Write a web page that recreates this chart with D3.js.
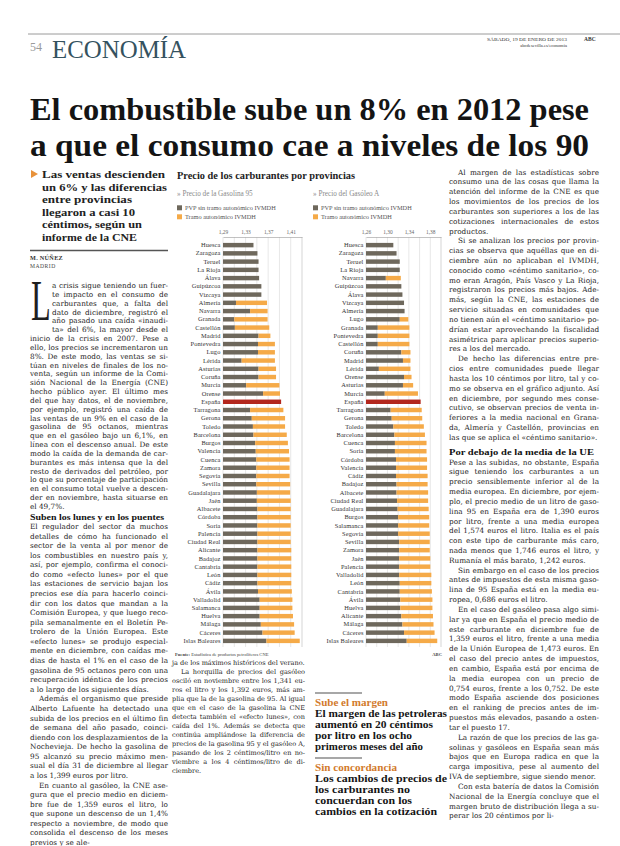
<!DOCTYPE html>
<html lang="es"><head><meta charset="utf-8">
<script src="https://cdn.jsdelivr.net/npm/d3@7/dist/d3.min.js"></script>
<style>html,body{margin:0;padding:0;background:#fff}svg{display:block}</style>
</head><body>
<svg id="page" width="620" height="846" xmlns="http://www.w3.org/2000/svg"></svg>
<script>
// ---------------- DATA ----------------
const gasProvinces = ["Huesca","Zaragoza","Teruel","La Rioja","Álava","Guipúzcoa","Vizcaya","Almería","Navarra","Granada","Castellón","Madrid","Pontevedra","Lugo","Lérida","Asturias","Coruña","Murcia","Orense","España","Tarragona","Gerona","Toledo","Barcelona","Burgos","Valencia","Cuenca","Zamora","Segovia","Sevilla","Guadalajara","Jaén","Albacete","Córdoba","Soria","Palencia","Ciudad Real","Alicante","Badajoz","Cantabria","León","Cádiz","Ávila","Valladolid","Salamanca","Huelva","Málaga","Cáceres","Islas Baleares"];
// PVP sin tramo autonómico IVMDH (€/litro)
const gasBase = [1.344,1.351,1.353,1.353,1.354,1.358,1.358,1.313,1.338,1.310,1.311,1.353,1.352,1.352,1.323,1.353,1.353,1.331,1.361,1.393,1.338,1.341,1.343,1.344,1.347,1.348,1.349,1.349,1.349,1.349,1.350,1.350,1.351,1.351,1.351,1.351,1.351,1.351,1.351,1.351,1.351,1.351,1.352,1.355,1.355,1.355,1.357,1.360,1.367];
// PVP total, incl. tramo autonómico IVMDH (€/litro)
const gasTotal = [1.344,1.351,1.353,1.353,1.354,1.358,1.358,1.368,1.369,1.369,1.372,1.374,1.382,1.382,1.382,1.384,1.384,1.390,1.391,1.393,1.397,1.400,1.400,1.403,1.405,1.407,1.408,1.408,1.408,1.409,1.409,1.410,1.410,1.410,1.410,1.410,1.410,1.411,1.411,1.411,1.411,1.411,1.412,1.413,1.413,1.414,1.416,1.417,1.426];
const gasTicks = [1.29,1.33,1.37,1.41];
const gasDomain = [1.29,1.43];

const dieselProvinces = ["Huesca","Zaragoza","Teruel","La Rioja","Navarra","Guipúzcoa","Álava","Vizcaya","Almería","Lugo","Granada","Pontevedra","Castellón","Coruña","Madrid","Lérida","Orense","Asturias","Murcia","España","Tarragona","Gerona","Toledo","Barcelona","Cuenca","Soria","Córdoba","Valencia","Cádiz","Badajoz","Albacete","Ciudad Real","Guadalajara","Burgos","Salamanca","Segovia","Sevilla","Zamora","Jaén","Palencia","Valladolid","León","Cantabria","Ávila","Huelva","Alicante","Málaga","Cáceres","Islas Baleares"];
const dieselBase = [1.311,1.317,1.323,1.323,1.297,1.326,1.328,1.331,1.332,1.323,1.282,1.282,1.282,1.326,1.329,1.284,1.331,1.329,1.295,1.362,1.306,1.308,1.311,1.313,1.314,1.314,1.316,1.316,1.316,1.317,1.317,1.318,1.319,1.320,1.320,1.320,1.322,1.322,1.322,1.322,1.322,1.323,1.323,1.324,1.324,1.326,1.328,1.331,1.336];
const dieselTotal = [1.311,1.317,1.323,1.323,1.325,1.326,1.328,1.331,1.332,1.339,1.341,1.341,1.341,1.343,1.343,1.343,1.345,1.348,1.357,1.362,1.364,1.365,1.368,1.370,1.373,1.373,1.374,1.374,1.375,1.375,1.376,1.376,1.377,1.378,1.378,1.379,1.379,1.379,1.380,1.380,1.382,1.382,1.383,1.384,1.384,1.385,1.386,1.388,1.393];
const dieselTicks = [1.26,1.30,1.34,1.38];
const dieselDomain = [1.26,1.40];

const seriesNames = ["PVP sin tramo autonómico IVMDH","Tramo autonómico IVMDH"];
const chartTitle = "Precio de los carburantes por provincias";
const gasTitle = "» Precio de la Gasolina 95";
const dieselTitle = "» Precio del Gasóleo A";

// ---------------- TEXTS ----------------
const headline = ["El combustible sube un 8% en 2012 pese","a que el consumo cae a niveles de los 90"];
const subhead = ["Las ventas descienden","un 6% y las diferencias","entre provincias","llegaron a casi 10","céntimos, según un","informe de la CNE"];
const leftA = [
 {drop:true,noIndent:true,text:"a crisis sigue teniendo un fuerte impacto en el consumo de carburantes que, a falta del dato de diciembre, registró el año pasado una caída «inaudita» del 6%, la mayor desde el inicio de la crisis en 2007. Pese a ello, los precios se incrementaron un 8%. De este modo, las ventas se sitúan en niveles de finales de los noventa, según un informe de la Comisión Nacional de la Energía (CNE) hecho público ayer. El último mes del que hay datos, el de noviembre, por ejemplo, registró una caída de las ventas de un 9% en el caso de la gasolina de 95 octanos, mientras que en el gasóleo bajo un 6,1%, en línea con el descenso anual. De este modo la caída de la demanda de carburantes es más intensa que la del resto de derivados del petróleo, por lo que su porcentaje de participación en el consumo total vuelve a descender en noviembre, hasta situarse en el 49,7%."}
];
const leftHead = "Suben los lunes y en los puentes";
const leftB = [
 {noIndent:true,text:"El regulador del sector da muchos detalles de cómo ha funcionado el sector de la venta al por menor de los combustibles en nuestro país y, así, por ejemplo, confirma el conocido como «efecto lunes» por el que las estaciones de servicio bajan los precios ese día para hacerlo coincidir con los datos que mandan a la Comisión Europea, y que luego recopila semanalmente en el Boletín Petrolero de la Unión Europea. Este «efecto lunes» se produjo especialmente en diciembre, con caídas medias de hasta el 1% en el caso de la gasolina de 95 octanos pero con una recuperación idéntica de los precios a lo largo de los siguientes días."},
 {text:"Además el organismo que preside Alberto Lafuente ha detectado una subida de los precios en el último fin de semana del año pasado, coincidiendo con los desplazamientos de la Nochevieja. De hecho la gasolina de 95 alcanzó su precio máximo mensual el día 31 de diciembre al llegar a los 1,399 euros por litro."},
 {cont:true,text:"En cuanto al gasóleo, la CNE asegura que el precio medio en diciembre fue de 1,359 euros el litro, lo que supone un descenso de un 1,4% respecto a noviembre, de modo que consolida el descenso de los meses previos y se ale-"}
];
const midText = [
 {noIndent:true,text:"ja de los máximos históricos del verano."},
 {text:"La horquilla de precios del gasóleo osciló en noviembre entre los 1,341 euros el litro y los 1,392 euros, más amplia que la de la gasolina de 95. Al igual que en el caso de la gasolina la CNE detecta también el «efecto lunes», con caída del 1%. Además se detecta que continúa ampliándose la diferencia de precios de la gasolina 95 y el gasóleo A, pasando de los 2 céntimos/litro en noviembre a los 4 céntimos/litro de diciembre."}
];
const rightA = [
 {text:"Al margen de las estadísticas sobre consumo una de las cosas que llama la atención del informe de la CNE es que los movimientos de los precios de los carburantes son superiores a los de las cotizaciones internacionales de estos productos."},
 {text:"Si se analizan los precios por provincias se observa que aquéllas que en diciembre aún no aplicaban el IVMDH, conocido como «céntimo sanitario», como eran Aragón, País Vasco y La Rioja, registraron los precios más bajos. Además, según la CNE, las estaciones de servicio situadas en comunidades que no tienen aún el «céntimo sanitario» podrían estar aprovechando la fiscalidad asimétrica para aplicar precios superiores a los del mercado."},
 {text:"De hecho las diferencias entre precios entre comunidades puede llegar hasta los 10 céntimos por litro, tal y como se observa en el gráfico adjunto. Así en diciembre, por segundo mes consecutivo, se observan precios de venta inferiores a la media nacional en Granada, Almería y Castellón, provincias en las que se aplica el «céntimo sanitario»."}
];
const rightHead = "Por debajo de la media de la UE";
const rightB = [
 {noIndent:true,text:"Pese a las subidas, no obstante, España sigue teniendo los carburantes a un precio sensiblemente inferior al de la media europea. En diciembre, por ejemplo, el precio medio de un litro de gasolina 95 en España era de 1,390 euros por litro, frente a una media europea del 1,574 euros el litro. Italia es el país con este tipo de carburante más caro, nada menos que 1,746 euros el litro, y Rumanía el más barato, 1,242 euros."},
 {text:"Sin embargo en el caso de los precios antes de impuestos de esta misma gasolina de 95 España está en la media europea, 0,686 euros el litro."},
 {text:"En el caso del gasóleo pasa algo similar ya que en España el precio medio de este carburante en diciembre fue de 1,359 euros el litro, frente a una media de la Unión Europea de 1,473 euros. En el caso del precio antes de impuestos, en cambio, España está por encima de la media europea con un precio de 0,754 euros, frente a los 0,752. De este modo España asciende dos posiciones en el ranking de precios antes de impuestos más elevados, pasando a ostentar el puesto 17."},
 {text:"La razón de que los precios de las gasolinas y gasóleos en España sean más bajos que en Europa radica en que la carga impositiva, pese al aumento del IVA de septiembre, sigue siendo menor."},
 {cont:true,text:"Con esta batería de datos la Comisión Nacional de la Energía concluye que el margen bruto de distribución llega a superar los 20 céntimos por li-"}
];
const side1Kicker = "Sube el margen";
const side1 = ["El margen de las petroleras","aumentó en 20 céntimos","por litro en los ocho","primeros meses del año"];
const side2Kicker = "Sin concordancia";
const side2 = ["Los cambios de precios de","los carburantes no","concuerdan con los","cambios en la cotización"];

// ---------------- STYLE ----------------
const SERIF = '"Liberation Serif", "DejaVu Serif", serif';
const BODY = '"DejaVu Serif", "Liberation Serif", serif';
const C_DARK = "#6e685c", C_ORANGE = "#f5aa48", C_RED = "#b3271d", C_TEAL = "#35525f", C_KICK = "#d27a2c";

const svg = d3.select("#page");
svg.append("rect").attr("width",620).attr("height",846).attr("fill","#fff");

// ---------- text engine ----------
const cnv = document.createElement("canvas"); const ctx = cnv.getContext("2d");
function mfont(fs, w){ ctx.font = `${w||"normal"} ${fs}px "DejaVu Serif"`; }
function mw(s){ return ctx.measureText(s).width; }
const VOW = "aeiouáéíóúü";
const INSEP = ["pr","br","tr","dr","cr","gr","fr","pl","bl","cl","gl","fl","ch","ll","rr"];
function hyph(word){
  const w = word.toLowerCase(), n = w.length, pts = [];
  const isV = c => VOW.includes(c);
  let k = 0;
  while(k<n && !isV(w[k])) k++;
  while(k<n){
    while(k<n && isV(w[k])) k++;
    const s = k;
    while(k<n && !isV(w[k])) k++;
    if(k>=n) break;
    const c = w.slice(s,k), L = c.length; let b;
    if(L===1) b = s;
    else if(L===2) b = INSEP.includes(c) ? s : s+1;
    else if(L===3) b = INSEP.includes(c.slice(1)) ? s+1 : s+2;
    else b = s+2;
    if(b>=2 && n-b>=2) pts.push(b);
  }
  return pts;
}
function wrap(tokens, widthAt, spaceW){
  const lines = []; let cur = [], curW = 0;
  const q = tokens.slice();
  while(q.length){
    const t = q.shift(); const maxW = widthAt(lines.length);
    const tw = mw(t); const add = cur.length ? spaceW + tw : tw;
    if(curW + add <= maxW){ cur.push(t); curW += add; continue; }
    const m = t.match(/^([^A-Za-zÀ-ÿ]*)([A-Za-zÀ-ÿ]+)([^A-Za-zÀ-ÿ]*)$/);
    let done = false;
    if(m){
      const core = m[2]; const pts = hyph(core).reverse();
      for(const p of pts){
        const head = m[1] + core.slice(0,p) + "-";
        if(curW + (cur.length?spaceW:0) + mw(head) <= maxW){
          cur.push(head); lines.push({words:cur,last:false}); cur=[]; curW=0;
          q.unshift(core.slice(p)+m[3]); done = true; break;
        }
      }
    }
    if(!done){
      if(cur.length===0){ lines.push({words:[t],last:false}); }
      else { lines.push({words:cur,last:false}); cur=[]; curW=0; q.unshift(t); }
    }
  }
  if(cur.length) lines.push({words:cur,last:true});
  return lines;
}
function layoutSeg(items, width, fs, o){
  mfont(fs); const spaceW = mw(" "); const out = [];
  items.forEach(it=>{
    const toks = it.text.split(/\s+/).filter(Boolean);
    const base = out.length;
    const geo = j => {
      const gi = base + j; let xoff = 0;
      if(it.drop && gi < o.dropLines) xoff = o.dropIndent;
      else if(j===0 && !it.noIndent) xoff = o.indent;
      return {xoff, maxW: width - xoff};
    };
    wrap(toks, j=>geo(j).maxW, spaceW).forEach((l,j)=>{
      const g = geo(j); out.push({words:l.words, last:l.last, cont:l.last && it.cont, xoff:g.xoff, maxW:g.maxW});
    });
  });
  return out;
}
function flow(items, x, width, y0, y1, o){
  o = Object.assign({lh:8.55, maxFs:7.3, minFs:6.4, indent:9, dropLines:0, dropIndent:0}, o||{});
  const target = Math.floor((y1-y0)/o.lh) + 1;
  let fs = o.maxFs, lines;
  for(; fs >= o.minFs; fs -= 0.05){
    lines = layoutSeg(items, width, fs, o);
    if(lines.length <= target) break;
  }
  fs = Math.max(fs, o.minFs);
  mfont(fs); const spaceW = mw(" ");
  const lh = lines.length>1 ? Math.min((y1-y0)/(lines.length-1), o.lh*1.15) : o.lh;
  const g = svg.append("g").attr("font-family", BODY).attr("font-size", fs.toFixed(2)).attr("fill", "#1e1e1e");
  lines.forEach((l,i)=>{
    const y = y0 + i*lh;
    const t = g.append("text").attr("y", y.toFixed(2));
    const ws = l.words.map(mw);
    const nat = d3.sum(ws) + spaceW*(l.words.length-1);
    let gap = spaceW;
    const justify = !l.last || (l.cont && nat > 0.72*l.maxW);
    if(justify && l.words.length>1) gap = spaceW + (l.maxW - nat)/(l.words.length-1);
    let cx = x + l.xoff;
    l.words.forEach((w,k)=>{ t.append("tspan").attr("x", cx.toFixed(2)).text(w); cx += ws[k] + gap; });
  });
  return {fs, lh, n: lines.length};
}

// ---------- masthead ----------
svg.append("line").attr("x1",28).attr("x2",620).attr("y1",34).attr("y2",34).attr("stroke","#9a9a9a").attr("stroke-width",1);
svg.append("text").attr("x",30).attr("y",51).attr("font-family",SERIF).attr("font-size",12).attr("fill","#9a9a9a").text("54");
svg.append("text").attr("x",52).attr("y",57.5).attr("font-family",SERIF).attr("font-size",26).attr("fill",C_TEAL)
  .attr("textLength",134).attr("lengthAdjust","spacingAndGlyphs").text("ECONOMÍA");
svg.append("text").attr("x",487).attr("y",41).attr("font-family",SERIF).attr("font-size",5).attr("fill","#333")
  .attr("textLength",80).attr("lengthAdjust","spacingAndGlyphs").text("SÁBADO, 19 DE ENERO DE 2013");
svg.append("text").attr("x",584).attr("y",41).attr("font-family",SERIF).attr("font-weight","bold").attr("font-size",5.5).attr("fill","#333").text("ABC");
svg.append("text").attr("x",567).attr("y",47).attr("text-anchor","end").attr("font-family",SERIF).attr("font-size",4.6).attr("fill","#333").text("abcdesevilla.es/economia");

// ---------- headline ----------
headline.forEach((h,i)=>{
  svg.append("text").attr("x",30).attr("y",120 + i*36).attr("font-family",SERIF).attr("font-weight","bold")
    .attr("font-size",32).attr("fill","#141414").attr("textLength",559).attr("lengthAdjust","spacingAndGlyphs").text(h);
});

// ---------- subhead ----------
const subW = [123,125,90,93,100,95];
svg.append("path").attr("d","M31,170 L38,174 L31,178 Z").attr("fill","#e8923a");
subhead.forEach((s,i)=>{
  svg.append("text").attr("x",42).attr("y",178 + i*12.5).attr("font-family",SERIF).attr("font-weight","bold")
    .attr("font-size",11.2).attr("fill","#222").attr("textLength",subW[i]).attr("lengthAdjust","spacingAndGlyphs").text(s);
});
svg.append("line").attr("x1",30).attr("x2",168).attr("y1",250.5).attr("y2",250.5).attr("stroke","#555").attr("stroke-width",1.3);
svg.append("text").attr("x",30).attr("y",259.5).attr("font-family",SERIF).attr("font-weight","bold").attr("font-size",6.2).attr("fill","#333").attr("letter-spacing",0.3).text("M. NÚÑEZ");
svg.append("text").attr("x",30).attr("y",267.5).attr("font-family",SERIF).attr("font-size",5.6).attr("fill","#444").attr("letter-spacing",0.5).text("MADRID");

// ---------- left column ----------
const fA = flow(leftA, 30, 138, 288, 509, {dropLines:6, dropIndent:22});
// drop cap (initial letter of the first paragraph)
{
  const capTop = 288 - 0.7*fA.fs, capBase = 288 + 4*fA.lh - 3;
  const fsL = (capBase - capTop)/0.66;
  svg.append("text").attr("transform",`translate(31,${capBase.toFixed(2)}) scale(0.57,1)`)
    .attr("font-family",SERIF).attr("font-size",fsL.toFixed(1)).attr("fill","#1e1e1e").text("L");
}
svg.append("text").attr("x",30).attr("y",519.5).attr("font-family",SERIF).attr("font-weight","bold").attr("font-size",8.8).attr("fill","#111")
  .attr("textLength",134).attr("lengthAdjust","spacingAndGlyphs").text(leftHead);
flow(leftB, 30, 138, 529, 845);

// ---------- middle text ----------
flow(midText, 172, 133, 665, 773);

// ---------- right column ----------
flow(rightA, 449, 150, 174.5, 444);
svg.append("text").attr("x",449).attr("y",455).attr("font-family",SERIF).attr("font-weight","bold").attr("font-size",8.8).attr("fill","#111")
  .attr("textLength",145).attr("lengthAdjust","spacingAndGlyphs").text(rightHead);
flow(rightB, 449, 150, 464.5, 845);

// ---------- sidebars ----------
function sidebar(ruleY, kicker, kW, lines, lW){
  svg.append("line").attr("x1",315).attr("x2",362).attr("y1",ruleY).attr("y2",ruleY).attr("stroke","#8a8a8a").attr("stroke-width",1.5);
  svg.append("text").attr("x",315).attr("y",ruleY+13).attr("font-family",SERIF).attr("font-weight","bold").attr("font-size",9.4)
    .attr("fill",C_KICK).attr("textLength",kW).attr("lengthAdjust","spacingAndGlyphs").text(kicker);
  lines.forEach((s,i)=>{
    svg.append("text").attr("x",315).attr("y",ruleY+24 + i*11).attr("font-family",SERIF).attr("font-weight","bold").attr("font-size",9.9)
      .attr("fill","#151515").attr("textLength",lW[i]).attr("lengthAdjust","spacingAndGlyphs").text(s);
  });
}
sidebar(693, side1Kicker, 73, side1, [132,118,97,108]);
sidebar(758, side2Kicker, 82, side2, [132,95,97,122]);

// ---------- charts ----------
svg.append("text").attr("x",177).attr("y",179).attr("font-family",SERIF).attr("font-weight","bold").attr("font-size",10.6)
  .attr("fill","#222").attr("textLength",178).attr("lengthAdjust","spacingAndGlyphs").text(chartTitle);

function drawChart(cfg){
  const g = svg.append("g");
  const x = d3.scaleLinear().domain(cfg.domain).range(cfg.range);
  const y = d3.scaleBand().domain(cfg.provinces).range([241,645]).paddingInner(0.46).paddingOuter(0.23);
  const axisY = 237;
  g.append("text").attr("x",cfg.lx).attr("y",195.5).attr("font-family",SERIF).attr("font-size",7.2).attr("fill","#8a8a8a").text(cfg.title);
  const leg = g.selectAll("g.leg").data(seriesNames).join("g").attr("transform",(d,i)=>`translate(${cfg.lx},${208 + i*9})`);
  leg.append("rect").attr("x",0).attr("y",-2.7).attr("width",5).attr("height",5).attr("fill",(d,i)=> i===0 ? C_DARK : C_ORANGE);
  leg.append("text").attr("x",8).attr("y",2).attr("font-family",SERIF).attr("font-size",6.3).attr("fill","#555").text(d=>d);
  const grid = d3.range(cfg.domain[0], cfg.domain[1]+0.001, 0.02);
  g.selectAll("line.grid").data(grid).join("line").attr("class","grid")
    .attr("x1",d=>x(d)).attr("x2",d=>x(d)).attr("y1",axisY).attr("y2",647)
    .attr("stroke",(d,i)=> i===grid.length-1 ? "#b8b8b8" : "#d6d6d6").attr("stroke-width",0.6);
  const axis = d3.axisTop(x).tickValues(cfg.ticks).tickSize(0).tickSizeOuter(0).tickPadding(2.6)
    .tickFormat(d=> d.toFixed(2).replace(".",","));
  const ag = g.append("g").attr("transform",`translate(0,${axisY})`).call(axis);
  ag.select(".domain").attr("stroke","#a8a8a8").attr("stroke-width",0.7);
  ag.selectAll("text").attr("font-family",SERIF).attr("font-size",5.4).attr("fill","#666");
  const rows = cfg.provinces.map((p,i)=>({p, base:cfg.base[i], total:cfg.total[i]}));
  g.selectAll("rect.base").data(rows).join("rect").attr("class","base")
    .attr("x",x(cfg.domain[0])).attr("y",d=>y(d.p)).attr("height",y.bandwidth())
    .attr("width",d=>x(d.base)-x(cfg.domain[0])).attr("fill",d=> d.p==="España" ? C_RED : C_DARK);
  g.selectAll("rect.tramo").data(rows.filter(d=>d.total>d.base)).join("rect").attr("class","tramo")
    .attr("x",d=>x(d.base)).attr("y",d=>y(d.p)).attr("height",y.bandwidth())
    .attr("width",d=>x(d.total)-x(d.base)).attr("fill",C_ORANGE);
  g.selectAll("text.lab").data(rows).join("text").attr("class","lab")
    .attr("x",x(cfg.domain[0])-2.5).attr("y",d=>y(d.p)+y.bandwidth()/2+2.1)
    .attr("text-anchor","end").attr("font-family",SERIF).attr("font-size",6.4).attr("letter-spacing",0.12).attr("fill","#333").text(d=>d.p);
}
drawChart({provinces:gasProvinces, base:gasBase, total:gasTotal, ticks:gasTicks, domain:gasDomain, range:[223,302], lx:177, title:gasTitle});
drawChart({provinces:dieselProvinces, base:dieselBase, total:dieselTotal, ticks:dieselTicks, domain:dieselDomain, range:[366,441], lx:313, title:dieselTitle});

const src = svg.append("text").attr("x",175).attr("y",656).attr("font-family",SERIF).attr("font-size",4.6).attr("fill","#444");
src.append("tspan").attr("font-weight","bold").text("Fuente: ");
src.append("tspan").text("Estadística de productos petrolíferos CNE");
svg.append("text").attr("x",442).attr("y",656).attr("text-anchor","end").attr("font-family",SERIF).attr("font-weight","bold").attr("font-size",4.6).attr("fill","#444").text("ABC");
</script>
</body></html>
